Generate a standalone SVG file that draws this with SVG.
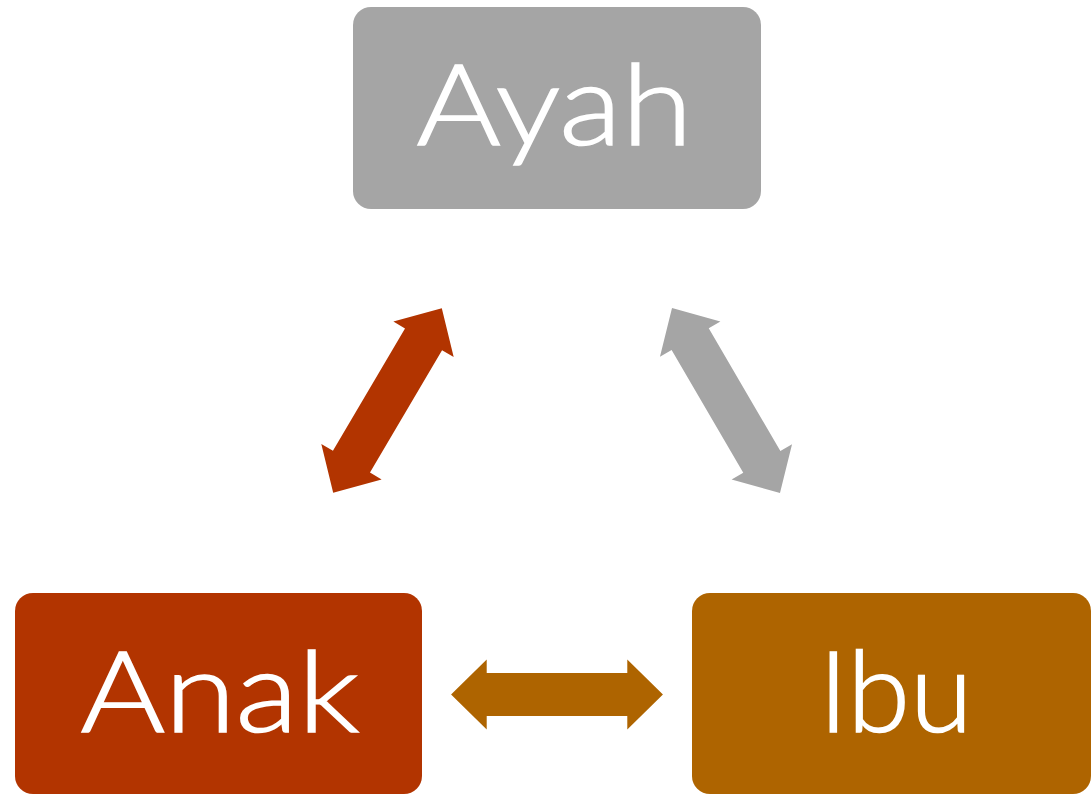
<svg xmlns="http://www.w3.org/2000/svg" width="1091" height="794" viewBox="0 0 1091 794">
  <defs>
    <!-- double-headed block arrow, centred on the origin along the x axis -->
    <path id="dbl" d="M -107 0 L -71 -35 L -71 -21.5 L 71 -21.5 L 71 -35 L 107 0 L 71 35 L 71 21.5 L -71 21.5 L -71 35 Z"/>
  </defs>
  <style>
    .lbl { font-family: Lato, "Open Sans", "Liberation Sans", sans-serif; font-weight: 300; font-size: 112px; fill: #ffffff; stroke: #ffffff; stroke-width: 1.6px; text-anchor: middle; }
    .gray { fill: #A5A5A5; }
    .red { fill: #B23400; }
    .amber { fill: #AE6400; }
  </style>
  <rect width="1091" height="794" fill="#ffffff"/>

  <g id="connectors">
    <use href="#dbl" class="red" transform="translate(387.5 400.5) rotate(-59.5)"/>
    <use href="#dbl" class="gray" transform="translate(726 400.5) rotate(59.7)"/>
    <use href="#dbl" class="amber" transform="translate(557 694.5) scale(0.99 1)"/>
  </g>

  <g id="ayah">
    <rect x="353" y="7" width="408" height="202" rx="18" class="gray"/>
    <text x="554.5" y="145" class="lbl" textLength="276" lengthAdjust="spacingAndGlyphs">Ayah</text>
  </g>

  <g id="anak">
    <rect x="15" y="593" width="407" height="201" rx="18" class="red"/>
    <text x="220" y="732" class="lbl" textLength="279" lengthAdjust="spacingAndGlyphs">Anak</text>
  </g>

  <g id="ibu">
    <rect x="692" y="593" width="399" height="201" rx="18" class="amber"/>
    <text x="895.5" y="732" class="lbl" textLength="154" lengthAdjust="spacingAndGlyphs">Ibu</text>
  </g>
</svg>
